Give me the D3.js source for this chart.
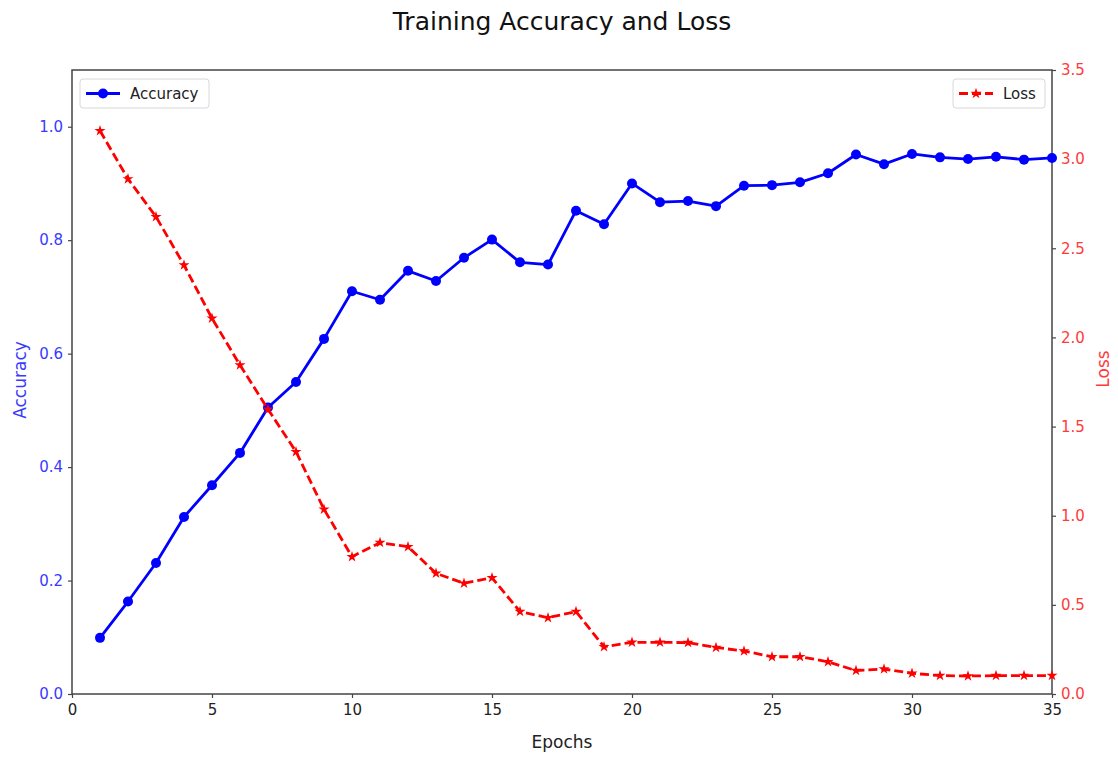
<!DOCTYPE html>
<html>
<head>
<meta charset="utf-8">
<script src="https://cdn.jsdelivr.net/npm/d3@7"></script>
<style>
  html, body { margin: 0; padding: 0; background: #fff; }
  svg { display: block; font-family: "DejaVu Sans", sans-serif; }
</style>
</head>
<body>
<svg id="chart" width="1118" height="757"></svg>
<script>
const epochs = d3.range(1, 36);
const accuracy = [0.099, 0.163, 0.231, 0.312, 0.368, 0.425, 0.505, 0.550, 0.626, 0.710,
                  0.695, 0.746, 0.728, 0.769, 0.801, 0.761, 0.757, 0.852, 0.828, 0.900,
                  0.867, 0.869, 0.860, 0.896, 0.897, 0.902, 0.918, 0.951, 0.934, 0.952,
                  0.946, 0.943, 0.947, 0.942, 0.945];
const loss = [3.159, 2.889, 2.677, 2.406, 2.107, 1.845, 1.597, 1.359, 1.036, 0.770,
              0.849, 0.826, 0.677, 0.621, 0.652, 0.462, 0.428, 0.462, 0.265, 0.290,
              0.290, 0.288, 0.261, 0.241, 0.209, 0.209, 0.181, 0.131, 0.140, 0.116,
              0.103, 0.101, 0.103, 0.103, 0.103];
const xTicks = [0, 5, 10, 15, 20, 25, 30, 35];
const accTicks = [0.0, 0.2, 0.4, 0.6, 0.8, 1.0];
const lossTicks = [0.0, 0.5, 1.0, 1.5, 2.0, 2.5, 3.0, 3.5];
const titleText = "Training Accuracy and Loss";

(function () {
const svg = d3.select("#chart");
const pL = 72, pR = 1052, pT = 70, pB = 694;

const x = d3.scaleLinear().domain([0, 35]).range([pL, pR]);
const yA = d3.scaleLinear().domain([0, 1.1]).range([pB, pT]);
const yL = d3.scaleLinear().domain([0, 3.5]).range([pB, pT]);

const blue = "#0000ff", red = "#ff0000";
const blueText = "#3a3aff", redText = "#ff3a3a";
const spine = "#444";

function styleAxis(g, color) {
  g.select(".domain").remove();
  g.selectAll(".tick line").attr("stroke", spine).attr("stroke-width", 1.2);
  g.selectAll(".tick text").attr("fill", color).style("font-size", "15px").style("font-family", "DejaVu Sans, sans-serif");
}
const gx = svg.append("g").attr("transform", `translate(0,${pB})`)
  .call(d3.axisBottom(x).tickValues(xTicks).tickFormat(d3.format("d")).tickSize(4).tickPadding(6));
styleAxis(gx, "#222");
const gyA = svg.append("g").attr("transform", `translate(${pL},0)`)
  .call(d3.axisLeft(yA).tickValues(accTicks).tickFormat(d3.format(".1f")).tickSize(4).tickPadding(5));
styleAxis(gyA, blueText);
const gyL = svg.append("g").attr("transform", `translate(${pR},0)`)
  .call(d3.axisRight(yL).tickValues(lossTicks).tickFormat(d3.format(".1f")).tickSize(4).tickPadding(5));
styleAxis(gyL, redText);

svg.append("rect").attr("x", pL).attr("y", pT).attr("width", pR - pL).attr("height", pB - pT)
  .attr("fill", "none").attr("stroke", spine).attr("stroke-width", 1.5);

const lineA = d3.line().x((d, i) => x(epochs[i])).y(d => yA(d));
svg.append("path").datum(accuracy).attr("d", lineA)
  .attr("fill", "none").attr("stroke", blue).attr("stroke-width", 2.8).attr("stroke-linejoin", "round");
svg.append("g").selectAll("circle").data(accuracy).join("circle")
  .attr("cx", (d, i) => x(epochs[i])).attr("cy", d => yA(d)).attr("r", 5).attr("fill", blue);

const lineL = d3.line().x((d, i) => x(epochs[i])).y(d => yL(d));
svg.append("path").datum(loss).attr("d", lineL)
  .attr("fill", "none").attr("stroke", red).attr("stroke-width", 2.8).attr("stroke-dasharray", "9,4");
const star = d3.symbol().type(d3.symbolStar).size(38);
svg.append("g").selectAll("path").data(loss).join("path")
  .attr("d", star).attr("transform", (d, i) => `translate(${x(epochs[i])},${yL(d)})`).attr("fill", red);

svg.append("text").attr("x", 562).attr("y", 30).attr("text-anchor", "middle")
  .style("font-size", "25px").attr("fill", "#111").text(titleText);
svg.append("text").attr("x", 562).attr("y", 748).attr("text-anchor", "middle")
  .style("font-size", "17px").attr("fill", "#222").text("Epochs");
svg.append("text").attr("transform", `translate(26,${(pT + pB) / 2 - 2}) rotate(-90)`).attr("text-anchor", "middle")
  .style("font-size", "17px").attr("fill", blueText).text("Accuracy");
svg.append("text").attr("transform", `translate(1109,${(pT + pB) / 2 - 13}) rotate(-90)`).attr("text-anchor", "middle")
  .style("font-size", "17px").attr("fill", redText).text("Loss");

function legend(x0, y0, w, label, color, marker, dashed) {
  const g = svg.append("g");
  g.append("rect").attr("x", x0).attr("y", y0).attr("width", w).attr("height", 29).attr("rx", 3)
    .attr("fill", "#fff").attr("fill-opacity", 0.85).attr("stroke", "#d8d8d8").attr("stroke-width", 1);
  g.append("line").attr("x1", x0 + 6).attr("x2", x0 + 40).attr("y1", y0 + 14.5).attr("y2", y0 + 14.5)
    .attr("stroke", color).attr("stroke-width", 2.8).attr("stroke-dasharray", dashed ? "9,4" : null);
  if (marker === "circle") {
    g.append("circle").attr("cx", x0 + 23).attr("cy", y0 + 14.5).attr("r", 5).attr("fill", color);
  } else {
    g.append("path").attr("d", star).attr("transform", `translate(${x0 + 23},${y0 + 14.5})`).attr("fill", color);
  }
  g.append("text").attr("x", x0 + 50).attr("y", y0 + 20).style("font-size", "15px").attr("fill", "#222").text(label);
}
legend(80, 79, 129, "Accuracy", blue, "circle", false);
legend(953, 79, 92, "Loss", red, "star", true);
})();
</script>
</body>
</html>
